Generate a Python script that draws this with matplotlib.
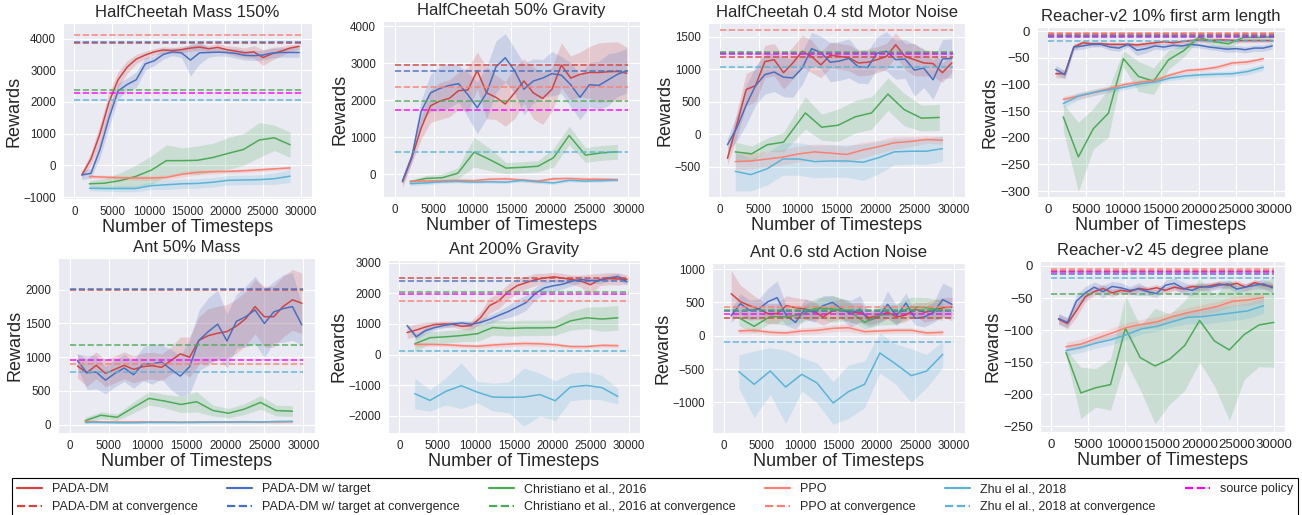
import matplotlib
matplotlib.use("Agg")
import matplotlib.pyplot as plt
from matplotlib.lines import Line2D
import numpy as np
import seaborn as sns

sns.set_style("darkgrid")
plt.rcParams["font.family"] = ["Liberation Sans", "DejaVu Sans"]

# ---- x positions (timesteps) ----
x_pada = [1000, 2200, 3400, 4600, 5800, 7000, 8200, 9400, 10600, 11800, 13000, 14200, 15400,
          16600, 17800, 19000, 20200, 21400, 22600, 23800, 25000, 26200, 27400, 28600, 29800]
x_base = [2000, 4000, 6100, 8100, 10200, 12200, 14300, 16300, 18400, 20400, 22400, 24500, 26500, 28600]
x_chr_noise = [2000, 4100, 6100, 8200, 11000, 13100, 15200, 17400, 19500, 21600, 23700, 25900, 28200]
x_chr_reacher = [2000, 4000, 6000, 8000, 10000, 12000, 14000, 16000, 18000, 20000, 22000, 24000,
                 26000, 28000, 30000]

titles = ["HalfCheetah Mass 150%", "HalfCheetah 50% Gravity", "HalfCheetah 0.4 std Motor Noise",
          "Reacher-v2 10% first arm length", "Ant 50% Mass", "Ant 200% Gravity",
          "Ant 0.6 std Action Noise", "Reacher-v2 45 degree plane"]

labels = ["PADA-DM", "PADA-DM w/ target", "Christiano et al., 2016", "PPO", "Zhu el al., 2018"]
conv_labels = [l + " at convergence" for l in labels] + ["source policy"]

# ---- HalfCheetah Mass 150% ----
p1_pada = [-300, 200, 1000, 2000, 2700, 3100, 3350, 3480, 3580, 3640, 3620, 3650, 3700, 3730, 3680,
           3720, 3650, 3600, 3550, 3580, 3400, 3520, 3600, 3700, 3750]
p1_pada_sd = [100, 200, 300, 300, 250, 200, 150, 120, 100, 100, 100, 100, 100, 100, 100, 120, 120,
              150, 150, 200, 250, 200, 150, 100, 80]
p1_target = [-300, -250, 500, 1500, 2350, 2550, 2700, 3200, 3300, 3500, 3580, 3550, 3320, 3550, 3560,
             3570, 3560, 3530, 3470, 3460, 3480, 3540, 3560, 3560, 3560]
p1_target_sd = [150, 150, 250, 300, 250, 200, 250, 200, 150, 150, 120, 150, 500, 350, 150, 120, 120,
                150, 150, 150, 150, 150, 150, 150, 150]
p1_chr = [-580, -560, -480, -350, -150, 150, 150, 160, 250, 380, 500, 800, 870, 650]
p1_chr_sd = [100, 150, 250, 350, 450, 500, 400, 450, 450, 500, 500, 550, 400, 400]
p1_ppo = [-350, -370, -390, -400, -400, -380, -280, -220, -200, -190, -170, -140, -110, -80]
p1_ppo_sd = [60, 60, 70, 70, 80, 80, 90, 80, 70, 60, 60, 60, 50, 50]
p1_zhu = [-720, -730, -730, -730, -640, -610, -580, -570, -530, -470, -460, -450, -420, -340]
p1_zhu_sd = [80, 80, 100, 100, 120, 150, 150, 150, 150, 150, 150, 150, 180, 200]
p1_conv = [3860, 3900, 2390, 4120, 2060, 2280]

# ---- HalfCheetah 50% Gravity ----
p2_pada = [-200, 450, 1250, 1850, 1980, 2050, 2260, 2280, 2800, 2200, 2080, 1900, 2200, 2520, 2200,
           2050, 2300, 2950, 2600, 2700, 2750, 2750, 2770, 2780, 2730]
p2_pada_sd = [150, 150, 300, 450, 500, 500, 500, 600, 500, 700, 600, 600, 700, 600, 700, 700, 600,
              600, 600, 600, 700, 800, 800, 800, 700]
p2_target = [-180, 480, 1700, 2200, 2320, 2400, 2450, 2150, 1800, 2200, 2900, 3150, 2800, 2300, 2520,
             2600, 2720, 2680, 2420, 2080, 2420, 2400, 2550, 2700, 2800]
p2_target_sd = [100, 150, 300, 500, 600, 600, 500, 600, 700, 700, 700, 650, 600, 700, 600, 500, 600,
                500, 600, 600, 600, 650, 700, 600, 600]
p2_chr = [-200, -110, -90, 30, 600, 400, 170, 190, 220, 450, 1050, 520, 580, 610]
p2_chr_sd = [50, 80, 100, 150, 400, 300, 150, 150, 150, 250, 250, 200, 200, 200]
p2_ppo = [-180, -180, -170, -160, -170, -130, -120, -150, -180, -120, -110, -130, -130, -140]
p2_ppo_sd = [40, 40, 40, 40, 50, 50, 50, 50, 50, 50, 50, 50, 50, 50]
p2_zhu = [-250, -230, -200, -190, -210, -200, -210, -160, -200, -230, -160, -180, -170, -150]
p2_zhu_sd = [50, 50, 40, 40, 40, 40, 40, 40, 40, 40, 40, 40, 40, 40]
p2_conv = [2945, 2790, 1980, 2360, 600, 1750]

# ---- HalfCheetah 0.4 std Motor Noise ----
p3_pada = [-370, 150, 690, 750, 1120, 1150, 950, 1100, 1280, 1200, 1070, 1220, 1200, 1180, 1100,
           1110, 1150, 1200, 1380, 1200, 1150, 1100, 1090, 950, 1100]
p3_pada_sd = [100, 200, 250, 250, 250, 250, 250, 250, 250, 250, 200, 200, 200, 200, 200, 200, 200,
              200, 180, 200, 250, 200, 200, 150, 150]
p3_target = [-160, 100, 450, 750, 920, 960, 880, 870, 1020, 1320, 1260, 1110, 1130, 1170, 1040,
             1030, 1250, 1280, 1150, 1160, 990, 1020, 840, 1160, 1170]
p3_target_sd = [100, 200, 300, 300, 300, 300, 300, 300, 250, 250, 250, 300, 300, 300, 250, 250, 250,
                300, 300, 300, 400, 300, 300, 300, 300]
p3_chr = [-270, -300, -160, -120, 330, 110, 140, 270, 330, 620, 380, 250, 260]
p3_chr_sd = [150, 120, 100, 150, 250, 200, 250, 250, 250, 250, 250, 200, 200]
p3_ppo = [-420, -410, -380, -350, -300, -270, -290, -310, -240, -190, -130, -110, -80, -90]
p3_ppo_sd = [120, 120, 120, 120, 120, 120, 130, 120, 120, 100, 100, 80, 60, 60]
p3_zhu = [-570, -620, -530, -380, -380, -420, -410, -410, -430, -360, -270, -260, -260, -220]
p3_zhu_sd = [300, 250, 250, 250, 250, 250, 250, 250, 280, 250, 200, 200, 200, 200]
p3_conv = [1190, 1253, 1270, 1600, 1035, 1232]

# ---- Reacher-v2 10% first arm length ----
p4_pada = [-80, -80, -30, -22, -24, -24, -25, -25, -25, -26, -24, -22, -20, -22, -20, -18, -17, -18,
           -17, -17, -18, -18, -18, -18, -18]
p4_pada_sd = [8, 8, 5, 5, 4, 4, 4, 4, 4, 4, 4, 4, 4, 4, 4, 4, 4, 4, 4, 4, 4, 4, 4, 4, 4]
p4_target = [-72, -82, -30, -28, -25, -25, -30, -32, -25, -36, -33, -28, -30, -27, -28, -25, -27, -30,
             -32, -34, -33, -35, -32, -32, -28]
p4_target_sd = [8, 8, 6, 6, 5, 5, 6, 6, 5, 10, 8, 6, 6, 5, 5, 5, 5, 5, 5, 6, 6, 6, 6, 6, 6]
p4_chr = [-161, -236, -183, -154, -52, -85, -94, -54, -37, -12, -20, -24, -12, -12, -11]
p4_chr_sd = [25, 65, 38, 45, 15, 28, 25, 18, 12, 5, 8, 8, 5, 5, 5]
p4_ppo = [-128, -122, -115, -108, -100, -96, -92, -82, -74, -72, -68, -60, -58, -52]
p4_ppo_sd = [6, 6, 6, 6, 5, 5, 5, 4, 4, 4, 4, 4, 4, 4]
p4_zhu = [-136, -122, -115, -110, -105, -99, -95, -88, -84, -82, -81, -80, -76, -68]
p4_zhu_sd = [8, 7, 6, 6, 5, 5, 5, 5, 5, 5, 5, 5, 6, 6]
p4_conv = [-6, -12, -8, -4, -19, -10]

# ---- Ant 50% Mass ----
p5_pada = [870, 770, 880, 760, 820, 880, 820, 860, 875, 850, 950, 1050, 1000, 1250, 1320, 1355, 1380,
           1460, 1570, 1750, 1600, 1600, 1750, 1850, 1800]
p5_pada_sd = [180, 200, 200, 200, 200, 200, 200, 200, 200, 200, 200, 250, 300, 350, 400, 400, 400,
              400, 400, 400, 450, 450, 450, 450, 450]
p5_target = [950, 770, 780, 660, 760, 840, 740, 900, 900, 930, 820, 720, 860, 1250, 1380, 1490, 1240,
             1530, 1600, 1700, 1500, 1670, 1720, 1750, 1480]
p5_target_sd = [100, 250, 250, 200, 200, 200, 200, 250, 300, 250, 300, 300, 400, 450, 500, 500, 400,
                400, 450, 500, 500, 450, 500, 500, 300]
p5_chr = [60, 140, 110, 250, 390, 350, 300, 340, 210, 170, 230, 330, 210, 200]
p5_chr_sd = [50, 50, 50, 80, 100, 100, 120, 150, 80, 70, 80, 100, 80, 80]
p5_ppo = [50, 40, 40, 40, 40, 40, 35, 40, 40, 40, 45, 40, 45, 45]
p5_ppo_sd = [20, 20, 20, 20, 20, 20, 20, 20, 20, 20, 20, 20, 30, 20]
p5_zhu = [35, 35, 30, 30, 35, 35, 35, 35, 40, 40, 40, 40, 45, 50]
p5_zhu_sd = [10, 10, 10, 10, 10, 10, 10, 10, 10, 10, 10, 10, 10, 10]
p5_conv = [1995, 2010, 1175, 904, 775, 963]

# ---- Ant 200% Gravity ----
p6_pada = [720, 800, 900, 980, 1000, 990, 920, 950, 1200, 1600, 1750, 2050, 2250, 2350, 2450, 2500,
           2540, 2500, 2450, 2400, 2280, 2450, 2480, 2470, 2460]
p6_pada_sd = [200, 200, 150, 100, 100, 100, 100, 150, 200, 250, 250, 250, 250, 200, 200, 150, 150,
              150, 150, 200, 350, 200, 200, 200, 150]
p6_target = [950, 580, 780, 880, 950, 1000, 1030, 990, 1050, 1150, 1280, 1400, 1550, 1700, 2000, 2180,
             2250, 2300, 2400, 2450, 2420, 2420, 2500, 2550, 2380]
p6_target_sd = [50, 100, 100, 80, 80, 80, 80, 100, 100, 150, 150, 200, 250, 250, 200, 200, 200, 150,
                150, 100, 100, 100, 100, 100, 100]
p6_chr = [350, 550, 580, 620, 680, 880, 850, 870, 870, 880, 1100, 1200, 1160, 1200]
p6_chr_sd = [250, 200, 200, 200, 250, 250, 250, 250, 250, 250, 300, 350, 400, 400]
p6_ppo = [330, 330, 320, 290, 270, 310, 340, 360, 350, 320, 260, 260, 300, 290]
p6_ppo_sd = [60, 60, 60, 60, 70, 70, 80, 80, 80, 70, 60, 60, 60, 60]
p6_zhu = [-1280, -1500, -1200, -1020, -1230, -1390, -1400, -1390, -1310, -1510, -1060, -1010, -1080, -1370]
p6_zhu_sd = [500, 350, 450, 750, 350, 450, 500, 950, 700, 650, 450, 450, 400, 250]
p6_conv = [2490, 2410, 2030, 1750, 100, 1980]

# ---- Ant 0.6 std Action Noise ----
p7_pada = [630, 510, 450, 400, 330, 330, 450, 420, 400, 370, 280, 370, 400, 340, 350, 270, 300, 350,
           280, 310, 400, 350, 380, 420, 430]
p7_pada_sd = [350, 250, 200, 150, 150, 150, 150, 150, 150, 150, 120, 150, 150, 150, 150, 100, 100,
              100, 100, 100, 100, 150, 150, 150, 150]
p7_target = [300, 480, 380, 400, 510, 570, 300, 200, 400, 350, 450, 500, 400, 330, 400, 230, 280, 470,
             300, 490, 260, 280, 350, 540, 470]
p7_target_sd = [100, 150, 150, 150, 200, 250, 150, 100, 150, 150, 150, 100, 150, 200, 200, 100, 100,
                200, 150, 150, 100, 150, 150, 250, 250]
p7_chr = [270, 140, 290, 280, 320, 420, 400, 380, 200, 310, 320, 430, 420, 380]
p7_chr_sd = [120, 100, 100, 120, 120, 150, 200, 150, 100, 150, 150, 150, 150, 150]
p7_ppo = [70, 80, 50, 40, 70, 80, 110, 120, 60, 70, 80, 80, 40, 50]
p7_ppo_sd = [40, 40, 40, 40, 50, 50, 50, 60, 40, 40, 40, 40, 40, 40]
p7_zhu = [-540, -730, -530, -770, -580, -710, -1010, -840, -730, -260, -420, -600, -530, -280]
p7_zhu_sd = [250, 500, 350, 550, 250, 300, 320, 400, 350, 300, 300, 400, 250, 200]
p7_conv = [265, 365, 390, 425, -100, 320]

# ---- Reacher-v2 45 degree plane ----
p8_pada = [-83, -90, -70, -48, -40, -35, -42, -38, -40, -35, -37, -34, -38, -33, -36, -32, -33, -31,
           -28, -30, -27, -33, -26, -30, -32]
p8_pada_sd = [8, 8, 10, 8, 6, 6, 6, 5, 5, 5, 5, 5, 5, 5, 5, 5, 5, 5, 5, 5, 5, 5, 5, 5, 5]
p8_target = [-82, -88, -55, -42, -33, -40, -32, -34, -38, -36, -40, -43, -30, -27, -35, -38, -32, -33,
             -30, -28, -36, -33, -30, -28, -34]
p8_target_sd = [8, 8, 10, 10, 8, 10, 8, 8, 6, 10, 6, 6, 8, 8, 10, 8, 6, 6, 6, 6, 6, 6, 6, 8, 8]
p8_chr = [-135, -198, -190, -185, -97, -143, -156, -145, -124, -85, -117, -131, -107, -92, -88]
p8_chr_sd = [5, 40, 30, 40, 50, 50, 90, 70, 70, 65, 70, 110, 70, 65, 70]
p8_ppo = [-126, -122, -113, -105, -96, -91, -87, -79, -73, -68, -63, -55, -53, -49]
p8_ppo_sd = [7, 8, 8, 8, 8, 8, 8, 8, 8, 8, 8, 8, 8, 8]
p8_zhu = [-132, -127, -120, -115, -107, -98, -94, -87, -80, -79, -76, -73, -70, -62]
p8_zhu_sd = [8, 8, 8, 8, 8, 8, 8, 8, 10, 12, 12, 12, 12, 12]
p8_conv = [-8, -12, -43, -5, -19, -10]

x_ticks = [0, 5000, 10000, 15000, 20000, 25000, 30000]
y_ticks = [
    [-1000, 0, 1000, 2000, 3000, 4000],
    [0, 1000, 2000, 3000, 4000],
    [-500, 0, 500, 1000, 1500],
    [-300, -250, -200, -150, -100, -50, 0],
    [0, 500, 1000, 1500, 2000],
    [-2000, -1000, 0, 1000, 2000, 3000],
    [-1000, -500, 0, 500, 1000],
    [-250, -200, -150, -100, -50, 0],
]

colors = ["#D04443", "#4A6FBE", "#4DAA57", "#FA8072", "#5BB4D6", "#FF00FF"]

# pixel boxes of the axes: left, top, right, bottom
boxes = [(63, 23, 312, 199), (383, 21, 640, 197), (708, 23, 965, 197), (1037, 27, 1285, 197),
         (58, 258, 315, 433), (388, 260, 640, 433), (712, 263, 965, 433), (1040, 261, 1285, 432)]
ylims = [(-1060, 4490), (-610, 4140), (-965, 1715), (-311, 7.5),
         (-123, 2470), (-2565, 3090), (-1460, 1090), (-259, 7.8)]
tick_sizes = [8.3, 8.3, 8.3, 9.5, 8.3, 8.3, 8.3, 9.5]

panels = [
    (p1_pada, p1_pada_sd, p1_target, p1_target_sd, x_base, p1_chr, p1_chr_sd, p1_ppo, p1_ppo_sd, p1_zhu, p1_zhu_sd, p1_conv),
    (p2_pada, p2_pada_sd, p2_target, p2_target_sd, x_base, p2_chr, p2_chr_sd, p2_ppo, p2_ppo_sd, p2_zhu, p2_zhu_sd, p2_conv),
    (p3_pada, p3_pada_sd, p3_target, p3_target_sd, x_chr_noise, p3_chr, p3_chr_sd, p3_ppo, p3_ppo_sd, p3_zhu, p3_zhu_sd, p3_conv),
    (p4_pada, p4_pada_sd, p4_target, p4_target_sd, x_chr_reacher, p4_chr, p4_chr_sd, p4_ppo, p4_ppo_sd, p4_zhu, p4_zhu_sd, p4_conv),
    (p5_pada, p5_pada_sd, p5_target, p5_target_sd, x_base, p5_chr, p5_chr_sd, p5_ppo, p5_ppo_sd, p5_zhu, p5_zhu_sd, p5_conv),
    (p6_pada, p6_pada_sd, p6_target, p6_target_sd, x_base, p6_chr, p6_chr_sd, p6_ppo, p6_ppo_sd, p6_zhu, p6_zhu_sd, p6_conv),
    (p7_pada, p7_pada_sd, p7_target, p7_target_sd, x_base, p7_chr, p7_chr_sd, p7_ppo, p7_ppo_sd, p7_zhu, p7_zhu_sd, p7_conv),
    (p8_pada, p8_pada_sd, p8_target, p8_target_sd, x_chr_reacher, p8_chr, p8_chr_sd, p8_ppo, p8_ppo_sd, p8_zhu, p8_zhu_sd, p8_conv),
]

W, H = 1302, 515
fig = plt.figure(figsize=(W / 100, H / 100), dpi=100)

for i, p in enumerate(panels):
    pada, pada_sd, tgt, tgt_sd, xc, chr_, chr_sd, ppo, ppo_sd, zhu, zhu_sd, conv = p
    l, t, r, b = boxes[i]
    ax = fig.add_axes([l / W, 1 - b / H, (r - l) / W, (b - t) / H])
    curves = [(x_pada, pada, pada_sd), (x_pada, tgt, tgt_sd), (xc, chr_, chr_sd),
              (x_base, ppo, ppo_sd), (x_base, zhu, zhu_sd)]
    for k, (xs, m, sd) in enumerate(curves):
        m = np.array(m, float)
        sd = np.array(sd, float)
        ax.fill_between(xs, m - sd, m + sd, color=colors[k], alpha=0.2, lw=0)
        ax.plot(xs, m, color=colors[k], lw=1.1)
    for k, v in enumerate(conv):
        ax.hlines(v, 0, 30000, colors=colors[k], linestyles="--", lw=1.2, alpha=0.85)
    ax.set_xlim(-1500, 31500)
    ax.set_ylim(*ylims[i])
    ax.set_xticks(x_ticks)
    ax.set_yticks(y_ticks[i])
    ax.tick_params(labelsize=tick_sizes[i], pad=1.5)
    ax.set_title(titles[i], fontsize=12, pad=4)
    ax.set_xlabel("Number of Timesteps", fontsize=13, labelpad=1)
    ax.set_ylabel("Rewards", fontsize=13, labelpad=1)

handles = []
leg_labels = []
for k in range(5):
    handles.append(Line2D([], [], color=colors[k], lw=1.6))
    leg_labels.append(labels[k])
    handles.append(Line2D([], [], color=colors[k], lw=1.6, ls="--"))
    leg_labels.append(conv_labels[k])
handles.append(Line2D([], [], color=colors[5], lw=1.6, ls="--"))
leg_labels.append(conv_labels[5])

leg = fig.legend(handles, leg_labels, loc="upper left", ncol=6, mode="expand",
                 bbox_to_anchor=(12 / W, 1 - 478 / H, 1286 / W, 0), borderaxespad=0,
                 fontsize=9, frameon=True, fancybox=False, framealpha=1,
                 facecolor="white", edgecolor="black", handlelength=2.0)
leg.get_frame().set_linewidth(0.8)

fig.savefig("out.png", dpi=100)
